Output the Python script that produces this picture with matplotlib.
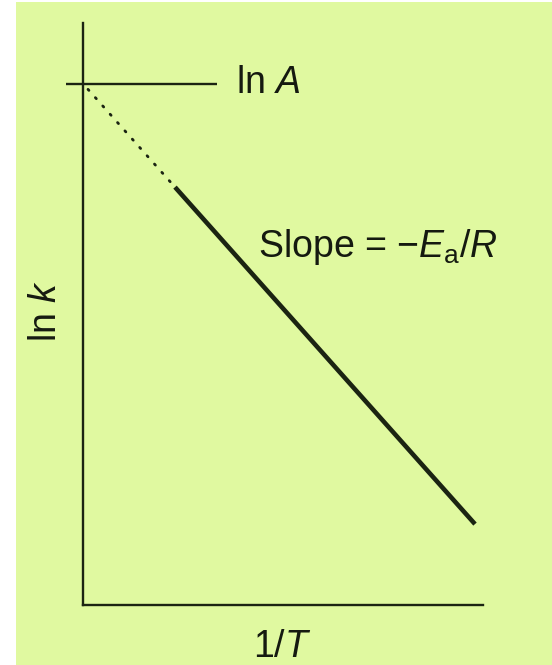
import matplotlib
matplotlib.use("Agg")
from matplotlib import pyplot as plt
import matplotlib.patches as patches

plt.rcParams["font.family"] = ["Liberation Sans", "DejaVu Sans"]
plt.rcParams["mathtext.fontset"] = "custom"
plt.rcParams["mathtext.rm"] = "Liberation Sans"
plt.rcParams["mathtext.it"] = "Liberation Sans:italic"

# Arrhenius plot: ln k against 1/T (arbitrary units)
ln_A = 0.895
inv_T_extrap = [0.0125, 0.23]
ln_k_extrap = [0.886, 0.718]
inv_T_meas = [0.23, 0.98]
ln_k_meas = [0.718, 0.139]
ln_A_marker_x = [-0.0425, 0.335]

W, H = 552, 665
bg = "#e0f9a0"
ink = "#1b2412"

fig = plt.figure(figsize=(W / 100, H / 100), dpi=100)
fig.patch.set_facecolor("white")
fig.patches.append(
    patches.Rectangle((16 / W, 0), 1, 1 - 2 / H, transform=fig.transFigure,
                      facecolor=bg, edgecolor="none", zorder=-5)
)

ax = fig.add_axes([83 / W, (H - 605) / H, 400 / W, 582 / H])
ax.set_zorder(1)
ax.set_facecolor("none")
ax.set_xlim(0, 1)
ax.set_ylim(0, 1)
for side in ("top", "right"):
    ax.spines[side].set_visible(False)
for side in ("left", "bottom"):
    ax.spines[side].set_color(ink)
    ax.spines[side].set_linewidth(1.7)
ax.set_xticks([])
ax.set_yticks([])

# intercept marker
ax.plot(ln_A_marker_x, [ln_A, ln_A], color=ink, lw=1.7, clip_on=False,
        solid_capstyle="butt")
# extrapolation to 1/T = 0
ax.plot(inv_T_extrap, ln_k_extrap, color=ink, lw=2.0, ls=(0, (0.5, 3.5)),
        dash_capstyle="round")
# measured range
ax.plot(inv_T_meas, ln_k_meas, color=ink, lw=3.3, solid_capstyle="butt")

fs = 27
fig.text(236 / W, 1 - 93 / H, r"ln $\mathit{A}$", fontsize=fs, color="#151a10",
         ha="left", va="baseline")
fig.text(258 / W, 1 - 257 / H, r"Slope = $-\mathit{E}_{\mathrm{a}}/\mathit{R}$",
         fontsize=fs, color="#151a10", ha="left", va="baseline")
fig.text(45.5 / W, 1 - 311 / H, r"ln $\mathit{k}$", fontsize=fs, color="#151a10",
         ha="center", va="center", rotation=90)
fig.text(282 / W, 1 - 657 / H, r"1/$\mathit{T}$", fontsize=fs, color="#151a10",
         ha="center", va="baseline")

fig.savefig("out.png", dpi=100, facecolor=fig.get_facecolor())
